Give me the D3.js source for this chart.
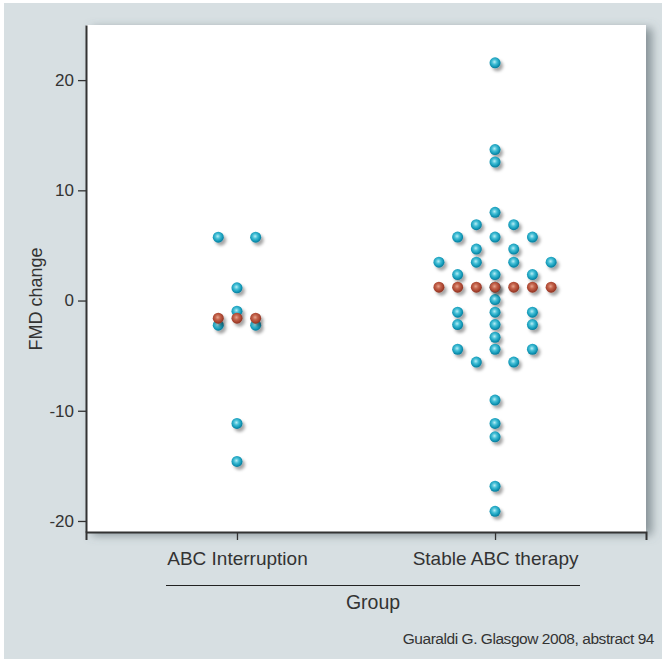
<!DOCTYPE html>
<html>
<head>
<meta charset="utf-8">
<script src="https://cdn.jsdelivr.net/npm/d3@7"></script>
<style>
  body { margin: 0; background: #fff; }
  svg { display: block; font-family: "Liberation Sans", Arial, sans-serif; }
</style>
</head>
<body>
<div id="chart"></div>
<script>
// FMD change by group, dot plot with median row

var groups = ["ABC Interruption", "Stable ABC therapy"];

var interruptionValues = [5.75, 5.75, 1.15, -0.97, -2.24, -2.24, -11.15, -14.6];

var stableValues = [21.57, 13.7, 12.57, 8.0, 6.88, 6.88, 5.76, 5.76, 5.76,
  4.67, 4.67, 3.48, 3.48, 3.48, 3.48, 2.36, 2.36, 2.36, 1.21, 0.09,
  -1.06, -1.06, -1.06, -2.18, -2.18, -2.18, -3.33, -4.42, -4.42, -4.42,
  -5.58, -5.58, -9.03, -11.15, -12.36, -16.85, -19.12];

var yTicks = [-20, -10, 0, 10, 20];

(function() {
  var width = 662, height = 659;
  var plot = { left: 86, top: 25, right: 646, bottom: 532 };
  var gap = 37.4, r = 5.5;

  var svg = d3.select("#chart").append("svg")
    .attr("width", width)
    .attr("height", height);

  var defs = svg.append("defs");

  var blue = defs.append("radialGradient").attr("id", "blueDot")
    .attr("cx", "45%").attr("cy", "42%").attr("r", "55%");
  blue.append("stop").attr("offset", "0%").attr("stop-color", "#b9eef6");
  blue.append("stop").attr("offset", "40%").attr("stop-color", "#45bfd6");
  blue.append("stop").attr("offset", "80%").attr("stop-color", "#1399b8");
  blue.append("stop").attr("offset", "100%").attr("stop-color", "#0b7f9d");

  var red = defs.append("radialGradient").attr("id", "redDot")
    .attr("cx", "45%").attr("cy", "42%").attr("r", "55%");
  red.append("stop").attr("offset", "0%").attr("stop-color", "#e8a48e");
  red.append("stop").attr("offset", "40%").attr("stop-color", "#c4644c");
  red.append("stop").attr("offset", "80%").attr("stop-color", "#a8432f");
  red.append("stop").attr("offset", "100%").attr("stop-color", "#8e3524");

  var dotShadow = defs.append("filter").attr("id", "dotShadow")
    .attr("x", "-50%").attr("y", "-50%").attr("width", "220%").attr("height", "220%");
  dotShadow.append("feDropShadow")
    .attr("dx", 2.5).attr("dy", 3).attr("stdDeviation", 1.8)
    .attr("flood-color", "#000").attr("flood-opacity", 0.35);

  var boxShadow = defs.append("filter").attr("id", "boxShadow")
    .attr("x", "-10%").attr("y", "-10%").attr("width", "130%").attr("height", "130%");
  boxShadow.append("feDropShadow")
    .attr("dx", 6).attr("dy", 3).attr("stdDeviation", 5)
    .attr("flood-color", "#5c6a70").attr("flood-opacity", 0.65);

  // background panel
  svg.append("rect")
    .attr("x", 4).attr("y", 3)
    .attr("width", width - 4).attr("height", height - 3)
    .attr("fill", "#d7dfe2");

  svg.append("rect")
    .attr("x", plot.left).attr("y", plot.top)
    .attr("width", plot.right - plot.left)
    .attr("height", plot.bottom - plot.top)
    .attr("fill", "#fff")
    .attr("filter", "url(#boxShadow)");

  var x = d3.scalePoint()
    .domain(groups)
    .range([plot.left, plot.right])
    .padding(0.585);

  var y = d3.scaleLinear()
    .domain([-21, 25])
    .range([plot.bottom, plot.top]);

  // axes
  var yAxis = svg.append("g")
    .attr("transform", "translate(" + plot.left + ",0)")
    .call(d3.axisLeft(y).tickValues(yTicks).tickSize(8).tickSizeOuter(0)
      .tickPadding(4).tickFormat(function(d) { return String(d); }));

  var xAxis = svg.append("g")
    .attr("transform", "translate(0," + plot.bottom + ")")
    .call(d3.axisBottom(x).tickSize(8).tickSizeOuter(8).tickPadding(12));

  [yAxis, xAxis].forEach(function(g) {
    g.select(".domain").attr("stroke", "#333").attr("stroke-width", 2);
    g.selectAll(".tick line").attr("stroke", "#333").attr("stroke-width", 1.3);
    g.selectAll("text").attr("fill", "#333")
      .attr("font-family", "\"Liberation Sans\", Arial, sans-serif");
  });
  yAxis.selectAll("text").attr("font-size", 17);
  xAxis.selectAll("text").attr("font-size", 19);

  // axis titles
  svg.append("text")
    .attr("transform", "translate(41.5,299) rotate(-90)")
    .attr("text-anchor", "middle")
    .attr("font-size", 18)
    .attr("fill", "#333")
    .text("FMD change");

  svg.append("line")
    .attr("x1", 166).attr("x2", 580)
    .attr("y1", 585.5).attr("y2", 585.5)
    .attr("stroke", "#222").attr("stroke-width", 1.2);

  svg.append("text")
    .attr("x", 373).attr("y", 609)
    .attr("text-anchor", "middle")
    .attr("font-size", 19.5)
    .attr("fill", "#333")
    .text("Group");

  svg.append("text")
    .attr("x", 654).attr("y", 644)
    .attr("text-anchor", "end")
    .attr("font-size", 15.5)
    .attr("letter-spacing", -0.45)
    .attr("fill", "#333")
    .text("Guaraldi G. Glasgow 2008, abstract 94");

  // dot layout: equal values share a row, centred on the group
  var series = [interruptionValues, stableValues];
  var points = [], medians = [];

  series.forEach(function(values, gi) {
    var rows = d3.group(values, function(v) { return v; });
    var maxCount = 0;
    rows.forEach(function(row) {
      maxCount = Math.max(maxCount, row.length);
      row.forEach(function(val, i) {
        points.push({ group: groups[gi], value: val, offset: (i - (row.length - 1) / 2) * gap });
      });
    });
    var med = d3.median(values);
    var n = 2 * (maxCount - 1) + 1;
    for (var j = 0; j < n; j++) {
      medians.push({ group: groups[gi], value: med, offset: (j - (n - 1) / 2) * gap / 2 });
    }
  });

  svg.append("g").selectAll("circle")
    .data(points)
    .enter().append("circle")
    .attr("cx", function(d) { return x(d.group) + d.offset; })
    .attr("cy", function(d) { return y(d.value); })
    .attr("r", r)
    .attr("fill", "url(#blueDot)")
    .attr("filter", "url(#dotShadow)");

  svg.append("g").selectAll("circle")
    .data(medians)
    .enter().append("circle")
    .attr("cx", function(d) { return x(d.group) + d.offset; })
    .attr("cy", function(d) { return y(d.value); })
    .attr("r", r)
    .attr("fill", "url(#redDot)")
    .attr("filter", "url(#dotShadow)");
})();
</script>
</body>
</html>
